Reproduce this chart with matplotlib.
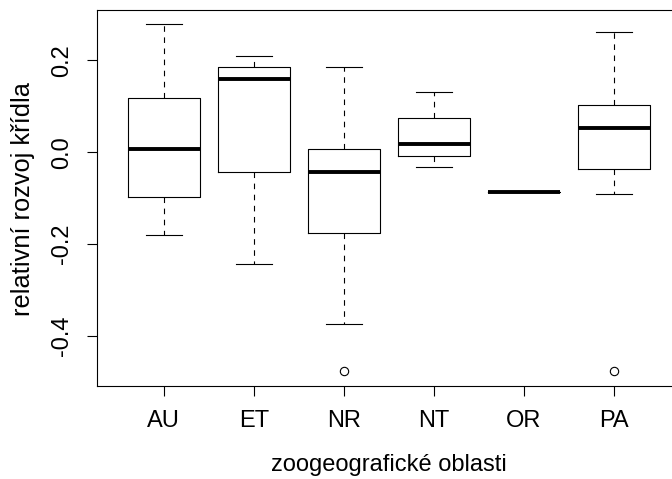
import matplotlib
matplotlib.use("Agg")
import matplotlib.pyplot as plt

# five-number summaries (R base boxplot)
groups = ["AU", "ET", "NR", "NT", "OR", "PA"]
q1 = [-0.097, -0.042, -0.176, -0.007, -0.0865, -0.037]
med = [0.007, 0.160, -0.042, 0.017, -0.0865, 0.052]
q3 = [0.118, 0.185, 0.007, 0.074, -0.0865, 0.103]
whislo = [-0.181, -0.244, -0.375, -0.032, -0.0865, -0.090]
whishi = [0.280, 0.210, 0.186, 0.131, -0.0865, 0.261]
fliers = [[], [], [-0.476], [], [], [-0.476]]
yticks = [-0.4, -0.2, 0.0, 0.2]

plt.rcParams["font.family"] = ["Liberation Sans", "DejaVu Sans"]
FS = 17
LW = 0.8

W, H = 672, 479
fig = plt.figure(figsize=(W / 100, H / 100), dpi=100)
left, right, top, bottom = 97, 680.6, 10, 385.7
ax = fig.add_axes([left / W, 1 - bottom / H, (right - left) / W, (bottom - top) / H])

stats = [dict(label=g, q1=a, med=m, q3=b, whislo=lo, whishi=hi, fliers=f)
         for g, a, m, b, lo, hi, f in zip(groups, q1, med, q3, whislo, whishi, fliers)]
ax.bxp(stats, positions=range(1, len(groups) + 1), widths=0.8, capwidths=0.4,
       boxprops=dict(color="black", lw=LW),
       medianprops=dict(color="black", lw=2.8, solid_capstyle="butt"),
       whiskerprops=dict(color="black", lw=LW, linestyle=(0, (5, 5))),
       capprops=dict(color="black", lw=LW),
       flierprops=dict(marker="o", markerfacecolor="none", markeredgecolor="black",
                       markersize=6, markeredgewidth=LW))

ax.set_xlim(0.26, 6.74)
ax.set_ylim(-0.5085, 0.310)
ax.set_yticks(yticks)
ax.set_yticklabels([f"{v:.1f}" for v in yticks], rotation=90, va="center")
ax.tick_params(axis="both", labelsize=FS, length=7.2, width=LW, pad=10, color="black")
for s in ax.spines.values():
    s.set_linewidth(LW)
    s.set_color("black")

fig.text(389 / W, 1 - 465 / H, "zoogeografické oblasti", ha="center", va="center", fontsize=FS)
fig.text(23 / W, 1 - 198.5 / H, "relativní rozvoj křídla", ha="center", va="center",
         rotation=90, fontsize=18.3)

fig.savefig("out.png", dpi=100)
